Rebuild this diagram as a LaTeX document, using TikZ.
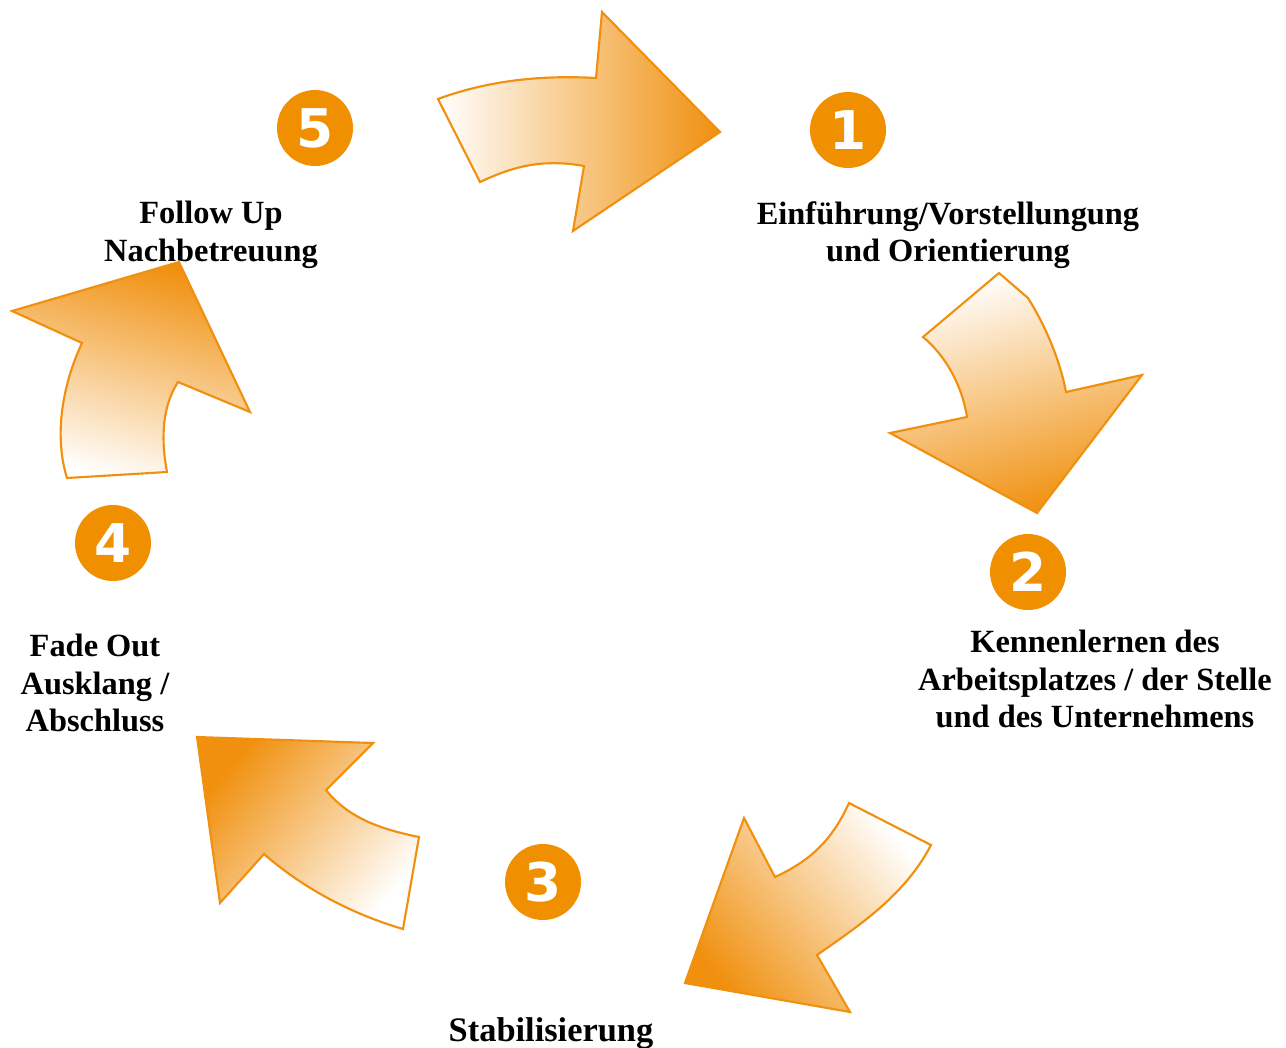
\documentclass[tikz,border=0pt]{standalone}
\usepackage{fontspec}
\setmainfont{Liberation Serif}
\newfontfamily\numfont{DejaVu Sans}
\definecolor{orng}{HTML}{F0900E}
\definecolor{circ}{HTML}{F09000}
\begin{document}
\begin{tikzpicture}[x=0.75pt,y=-0.75pt,
  arr/.style={draw=orng, line width=1.6pt, line join=miter},
  numc/.style={circle, fill=circ, minimum size=57pt, inner sep=0pt, text=white, font=\numfont\bfseries\fontsize{40}{40}\selectfont},
  lbl/.style={align=center, font=\bfseries\fontsize{24.3}{28.2}\selectfont, inner sep=0pt}]
\useasboundingbox (0,0) rectangle (1286,1047);
% arrow 1 (top, to the right)
\shade[arr, top color=white, bottom color=orng, shading angle=90]
  (438,99) .. controls (500,76) and (560,76) .. (596,78)
  -- (602,12) -- (720,132) -- (573,231) -- (584,166)
  .. controls (540,158) and (510,168) .. (480,182) -- cycle;
% arrow 2 (right, downward)
\shade[arr, top color=white, bottom color=orng, shading angle=15]
  (999,273) -- (1028,298) .. controls (1045,325) and (1060,360) .. (1066,392)
  -- (1142,375) -- (1037,513) -- (890,433) -- (967,417)
  .. controls (962,385) and (945,355) .. (923,337) -- cycle;
% arrow 3 (lower right, to lower left)
\shade[arr, top color=white, bottom color=orng, shading angle=-50]
  (849,803) -- (931,845) .. controls (905,895) and (860,925) .. (817,955)
  -- (850,1012) -- (685,983) -- (744,818) -- (775,877)
  .. controls (805,863) and (830,845) .. (849,803) -- cycle;
% arrow 4 (lower left, to upper left)
\shade[arr, top color=orng, bottom color=white, shading angle=50]
  (197,737) -- (373,743) -- (326,790)
  .. controls (350,820) and (385,830) .. (419,837)
  -- (403,929) .. controls (355,915) and (305,890) .. (264,854)
  -- (220,903) -- cycle;
% arrow 5 (left, upward)
\shade[arr, top color=orng, bottom color=white, shading angle=-15]
  (179,262) -- (250,412) -- (178,382)
  .. controls (160,410) and (162,445) .. (167,472)
  -- (67,478) .. controls (55,440) and (60,390) .. (82,343)
  -- (12,311) -- cycle;
% number circles
\node[numc] (c1) at (848,130) {1};
\node[numc] (c2) at (1028,572) {2};
\node[numc] (c3) at (543,882) {3};
\node[numc] (c4) at (113,543) {4};
\node[numc] (c5) at (315,128) {5};
% labels
\node[lbl] (t1) at (948,235) {Einführung/Vorstellungung\\und Orientierung};
\node[lbl] (t2) at (1095,679) {Kennenlernen des\\Arbeitsplatzes / der Stelle\\und des Unternehmens};
\node[lbl, font=\bfseries\fontsize{25.8}{28.2}\selectfont] (t3) at (551,1033) {Stabilisierung};
\node[lbl] (t4) at (95,683) {Fade Out\\Ausklang /\\Abschluss};
\node[lbl] (t5) at (211,235) {Follow Up\\Nachbetreuung};
\end{tikzpicture}
\end{document}
